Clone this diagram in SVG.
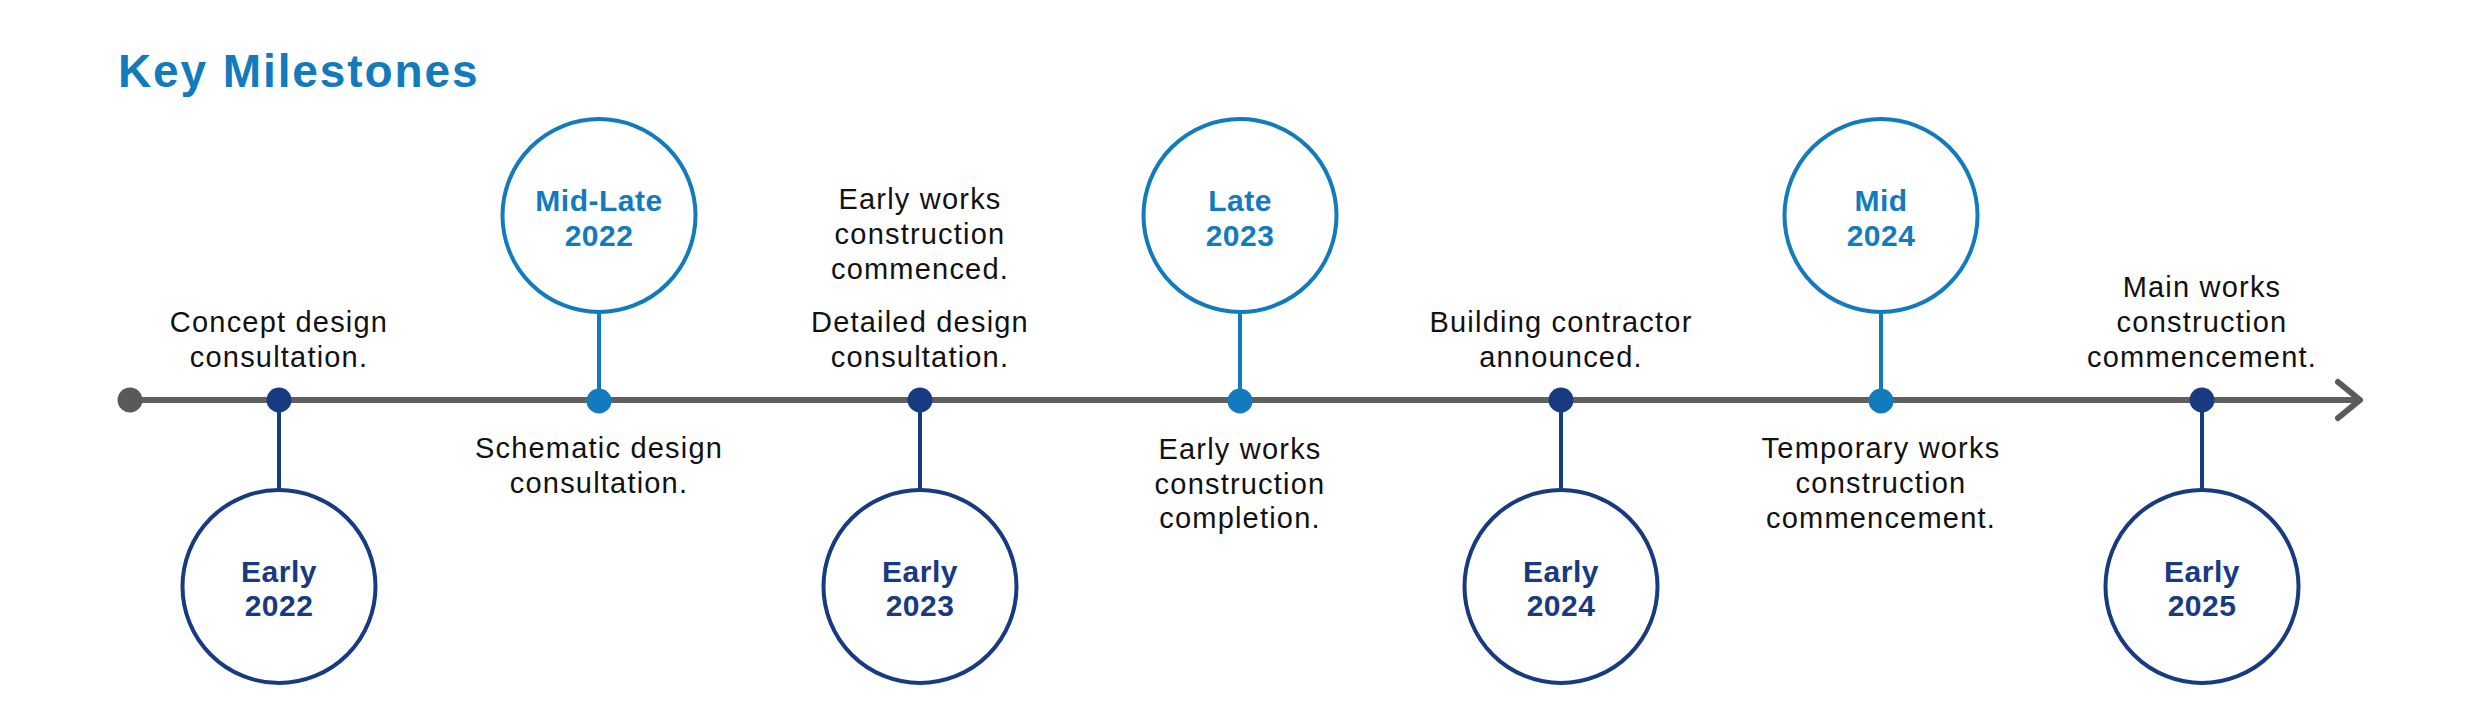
<svg xmlns="http://www.w3.org/2000/svg" width="2480" height="721" viewBox="0 0 2480 721">
<style>
.title{font-family:"Liberation Sans",Arial,sans-serif;font-weight:bold;font-size:46px;fill:#127BBD;letter-spacing:1.9px}
.lbl{font-family:"Liberation Sans",Arial,sans-serif;font-size:29px;fill:#111;text-anchor:middle;letter-spacing:1.2px}
.date{font-family:"Liberation Sans",Arial,sans-serif;font-weight:bold;font-size:30px;text-anchor:middle;letter-spacing:0.5px}
.lb .ring{fill:#fff;stroke:#127BBD;stroke-width:4}
.lb .stem{stroke:#127BBD;stroke-width:4}
.lb .dot{fill:#127BBD}
.lb .date{fill:#127BBD}
.nv .ring{fill:#fff;stroke:#183A80;stroke-width:4}
.nv .stem{stroke:#183A80;stroke-width:4}
.nv .dot{fill:#183A80}
.nv .date{fill:#183A80}
</style>
<rect width="2480" height="721" fill="#fff"/>
<text class="title" x="118" y="87">Key Milestones</text>

<g id="connectors">
<line x1="130" y1="400" x2="2358" y2="400" stroke="#606060" stroke-width="6"/>
<polyline points="2338,382 2360,400 2338,418" fill="none" stroke="#5b5b5b" stroke-width="6" stroke-linecap="round" stroke-linejoin="round"/>
<circle cx="130" cy="400" r="12.5" fill="#58595B"/>
</g>

<g id="node-early-2022" class="nv">
<line class="stem" x1="279" y1="400" x2="279" y2="490"/>
<circle class="ring" cx="279" cy="586.5" r="96.5"/>
<circle class="dot" cx="279" cy="400" r="12.5"/>
<text class="date" x="279" y="581.7">Early</text>
<text class="date" x="279" y="615.7">2022</text>
<text class="lbl" x="279" y="332">Concept design</text>
<text class="lbl" x="279" y="367">consultation.</text>
</g>

<g id="node-midlate-2022" class="lb">
<line class="stem" x1="599" y1="312" x2="599" y2="400"/>
<circle class="ring" cx="599" cy="215.5" r="96.5"/>
<circle class="dot" cx="599" cy="401" r="12.5"/>
<text class="date" x="599" y="210.7">Mid-Late</text>
<text class="date" x="599" y="245.7">2022</text>
<text class="lbl" x="599" y="458">Schematic design</text>
<text class="lbl" x="599" y="493">consultation.</text>
</g>

<g id="node-early-2023" class="nv">
<line class="stem" x1="920" y1="400" x2="920" y2="490"/>
<circle class="ring" cx="920" cy="586.5" r="96.5"/>
<circle class="dot" cx="920" cy="400" r="12.5"/>
<text class="date" x="920" y="581.7">Early</text>
<text class="date" x="920" y="615.7">2023</text>
<text class="lbl" x="920" y="209">Early works</text>
<text class="lbl" x="920" y="244">construction</text>
<text class="lbl" x="920" y="279">commenced.</text>
<text class="lbl" x="920" y="332">Detailed design</text>
<text class="lbl" x="920" y="367">consultation.</text>
</g>

<g id="node-late-2023" class="lb">
<line class="stem" x1="1240" y1="312" x2="1240" y2="400"/>
<circle class="ring" cx="1240" cy="215.5" r="96.5"/>
<circle class="dot" cx="1240" cy="401" r="12.5"/>
<text class="date" x="1240" y="210.7">Late</text>
<text class="date" x="1240" y="245.7">2023</text>
<text class="lbl" x="1240" y="459">Early works</text>
<text class="lbl" x="1240" y="494">construction</text>
<text class="lbl" x="1240" y="528">completion.</text>
</g>

<g id="node-early-2024" class="nv">
<line class="stem" x1="1561" y1="400" x2="1561" y2="490"/>
<circle class="ring" cx="1561" cy="586.5" r="96.5"/>
<circle class="dot" cx="1561" cy="400" r="12.5"/>
<text class="date" x="1561" y="581.7">Early</text>
<text class="date" x="1561" y="615.7">2024</text>
<text class="lbl" x="1561" y="332">Building contractor</text>
<text class="lbl" x="1561" y="367">announced.</text>
</g>

<g id="node-mid-2024" class="lb">
<line class="stem" x1="1881" y1="312" x2="1881" y2="400"/>
<circle class="ring" cx="1881" cy="215.5" r="96.5"/>
<circle class="dot" cx="1881" cy="401" r="12.5"/>
<text class="date" x="1881" y="210.7">Mid</text>
<text class="date" x="1881" y="245.7">2024</text>
<text class="lbl" x="1881" y="458">Temporary works</text>
<text class="lbl" x="1881" y="493">construction</text>
<text class="lbl" x="1881" y="528">commencement.</text>
</g>

<g id="node-early-2025" class="nv">
<line class="stem" x1="2202" y1="400" x2="2202" y2="490"/>
<circle class="ring" cx="2202" cy="586.5" r="96.5"/>
<circle class="dot" cx="2202" cy="400" r="12.5"/>
<text class="date" x="2202" y="581.7">Early</text>
<text class="date" x="2202" y="615.7">2025</text>
<text class="lbl" x="2202" y="297">Main works</text>
<text class="lbl" x="2202" y="332">construction</text>
<text class="lbl" x="2202" y="367">commencement.</text>
</g>
</svg>
